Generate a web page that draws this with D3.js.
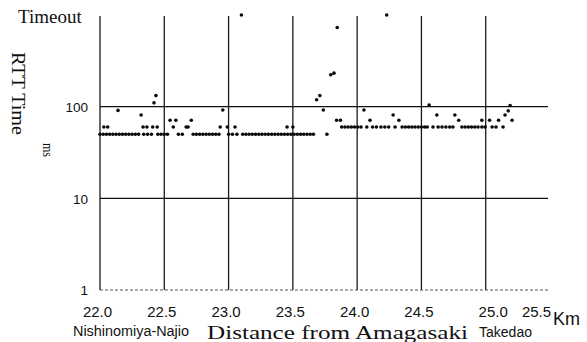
<!DOCTYPE html>
<html>
<head>
<meta charset="utf-8">
<script src="https://cdn.jsdelivr.net/npm/d3@7"></script>
<style>
  html, body { margin: 0; padding: 0; background: #fff; }
  svg { display: block; }
</style>
</head>
<body>
<div id="chart"></div>
<script>
// RTT samples, grouped by the level they sit on (ms)
const km50 = [22.00, 22.025, 22.05, 22.075, 22.10, 22.125, 22.15, 22.175, 22.20, 22.225, 22.25, 22.275, 22.30,
  22.34, 22.37, 22.40, 22.45, 22.475, 22.50, 22.525, 22.61, 22.64,
  22.725, 22.75, 22.775, 22.80, 22.825, 22.85, 22.875, 22.90, 22.925, 23.00, 23.03, 23.065,
  23.11, 23.135, 23.16, 23.185, 23.21, 23.235, 23.26, 23.285, 23.31, 23.335, 23.36, 23.385, 23.41, 23.435, 23.46,
  23.485, 23.51, 23.535, 23.56, 23.585, 23.61, 23.635, 23.66, 23.765];
const km60 = [22.03, 22.06, 22.335, 22.365, 22.41, 22.445, 22.57, 22.67, 22.685, 22.935, 22.99, 23.05, 23.455, 23.50,
  23.88, 23.905, 23.93, 23.955, 23.98, 24.005, 24.03, 24.075, 24.12, 24.15, 24.185, 24.215, 24.245, 24.295,
  24.35, 24.375, 24.40, 24.425, 24.45, 24.475, 24.50, 24.525, 24.545, 24.59, 24.63, 24.66, 24.69, 24.72, 24.745,
  24.815, 24.84, 24.865, 24.89, 24.915, 24.94, 24.97, 24.995, 25.05, 25.08, 25.135];
const km71 = [22.545, 22.59, 22.71, 23.84, 23.87, 24.10, 24.325, 24.79, 24.97, 25.03, 25.10, 25.205];
const km81 = [22.32, 24.28, 24.62, 24.76, 25.15];
const spikeKm = [22.14, 22.42, 22.435, 22.955, 23.685, 23.71, 23.737, 23.795, 23.82, 23.845, 24.053, 24.56, 25.175, 25.19];
const spikeMs = [91, 110, 132, 92, 119, 132, 92, 223, 232, 730, 92, 104, 90, 103];
const timeoutKm = [23.10, 24.23];
const TIMEOUT = 1000;

const xTicks = [22.0, 22.5, 23.0, 23.5, 24.0, 24.5, 25.0, 25.5];
const yTicks = [1, 10, 100];

let samples = []
  .concat(km50.map(k => ({ km: k, ms: 50 })))
  .concat(km60.map(k => ({ km: k, ms: 60 })))
  .concat(km71.map(k => ({ km: k, ms: 71 })))
  .concat(km81.map(k => ({ km: k, ms: 81 })))
  .concat(spikeKm.map((k, i) => ({ km: k, ms: spikeMs[i] })))
  .concat(timeoutKm.map(k => ({ km: k, ms: TIMEOUT })));

let width = 587, height = 342;
let xScale = d3.scaleLinear().domain([22, 25.5]).range([100, 550]);
let yScale = d3.scaleLog().domain([1, TIMEOUT]).range([290, 15]);

let svg = d3.select('#chart').append('svg')
  .attr('width', width)
  .attr('height', height);

// vertical grid
svg.append('g')
  .selectAll('line')
  .data(xTicks.filter(d => d < 25.5))
  .enter()
  .append('line')
  .attr('x1', d => xScale(d))
  .attr('x2', d => xScale(d))
  .attr('y1', yScale(TIMEOUT) + 1)
  .attr('y2', yScale(1))
  .attr('stroke', '#1a1a1a')
  .attr('stroke-width', 1.3);

// horizontal grid
svg.append('g')
  .selectAll('line')
  .data(yTicks)
  .enter()
  .append('line')
  .attr('x1', xScale(22))
  .attr('x2', xScale(25.5) - 2)
  .attr('y1', d => yScale(d))
  .attr('y2', d => yScale(d))
  .attr('stroke', d => d === 1 ? '#555' : '#111')
  .attr('stroke-width', d => d === 1 ? 1 : 1.3)
  .attr('stroke-dasharray', d => d === 1 ? '3,2' : null);

// points
svg.append('g')
  .selectAll('circle')
  .data(samples)
  .enter()
  .append('circle')
  .attr('cx', d => xScale(d.km))
  .attr('cy', d => yScale(d.ms))
  .attr('r', 1.8)
  .attr('fill', '#0a0a0a');

// axes
let xAxis = d3.axisBottom(xScale).tickValues(xTicks).tickSize(0).tickFormat(d3.format('.1f'));
let gx = svg.append('g')
  .attr('transform', 'translate(0,317)')
  .call(xAxis);
gx.select('.domain').remove();
gx.selectAll('text')
  .attr('y', 0)
  .attr('dy', 0)
  .attr('dx', d => d === 25.5 ? -14 : (d === 25.0 ? 7 : -3))
  .attr('font-family', '"Liberation Sans", Arial, sans-serif')
  .attr('font-size', 15)
  .attr('fill', '#111');

let yAxis = d3.axisLeft(yScale).tickValues(yTicks).tickSize(0).tickPadding(12).tickFormat(d3.format('d'));
let gy = svg.append('g')
  .attr('transform', 'translate(' + xScale(22) + ',0)')
  .call(yAxis);
gy.select('.domain').remove();
gy.selectAll('text')
  .attr('dy', '0.36em')
  .attr('font-family', '"Liberation Sans", Arial, sans-serif')
  .attr('font-size', 13.5)
  .attr('fill', '#111');

// labels
let serif = '"Liberation Serif", "Times New Roman", serif';
let sans = '"Liberation Sans", Arial, sans-serif';

svg.append('text')
  .attr('x', 18).attr('y', 22.5)
  .attr('font-family', serif).attr('font-size', 19)
  .attr('fill', '#111')
  .text('Timeout');

svg.append('text')
  .attr('transform', 'translate(12,52) rotate(90)')
  .attr('font-family', serif).attr('font-size', 18)
  .attr('textLength', 83).attr('lengthAdjust', 'spacingAndGlyphs')
  .attr('fill', '#111')
  .text('RTT Time');

svg.append('text')
  .attr('transform', 'translate(43,143) rotate(90)')
  .attr('font-family', serif).attr('font-size', 15)
  .attr('textLength', 14).attr('lengthAdjust', 'spacingAndGlyphs')
  .attr('fill', '#111')
  .text('ms');

svg.append('text')
  .attr('x', 207).attr('y', 339)
  .attr('font-family', serif).attr('font-size', 19)
  .attr('textLength', 261).attr('lengthAdjust', 'spacingAndGlyphs')
  .attr('fill', '#111')
  .text('Distance from Amagasaki');

svg.append('text')
  .attr('x', 73).attr('y', 335.5)
  .attr('font-family', sans).attr('font-size', 14)
  .attr('textLength', 116).attr('lengthAdjust', 'spacingAndGlyphs')
  .attr('fill', '#111')
  .text('Nishinomiya-Najio');

svg.append('text')
  .attr('x', 479).attr('y', 336.5)
  .attr('font-family', sans).attr('font-size', 14)
  .attr('textLength', 53).attr('lengthAdjust', 'spacingAndGlyphs')
  .attr('fill', '#111')
  .text('Takedao');

svg.append('text')
  .attr('x', 553).attr('y', 325)
  .attr('font-family', sans).attr('font-size', 18)
  .attr('fill', '#111')
  .text('Km');
</script>
</body>
</html>
